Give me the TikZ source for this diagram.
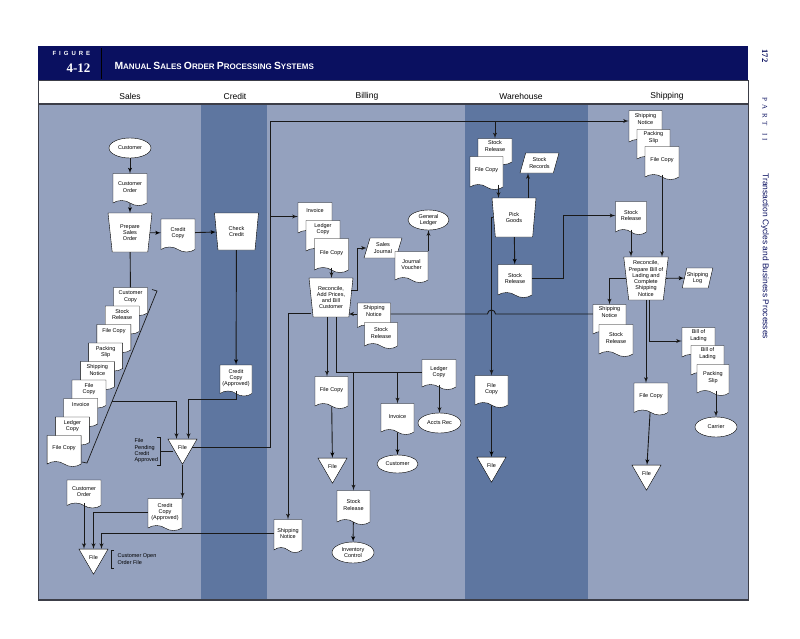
\documentclass[tikz,border=0pt]{standalone}
\usepackage{fontspec}
\setmainfont{Liberation Sans}
\newfontfamily\seriffont{Liberation Serif}
\usetikzlibrary{arrows,positioning,shapes.geometric,shapes.symbols}
\definecolor{col1}{RGB}{148,161,190}
\definecolor{col2}{RGB}{94,118,160}
\definecolor{col3}{RGB}{10,16,96}
\definecolor{col4}{RGB}{60,62,72}
\tikzstyle{docu}=[draw, fill=white, tape, tape bend top=none, tape bend bottom=out and in, tape bend height=5, minimum width=34, minimum height=32, inner sep=0.5, align=center]
\tikzstyle{backdoc}=[docu, text depth=6]
\tikzstyle{tallback}=[docu, text depth=12]
\tikzstyle{manual}=[draw, fill=white, trapezium, shape border rotate=180, trapezium angle=82, trapezium stretches=true, minimum width=44, minimum height=39, inner sep=0, align=center]
\tikzstyle{ledger}=[draw, fill=white, trapezium, trapezium left angle=68, trapezium right angle=112, trapezium stretches=true, minimum width=38, minimum height=20, inner sep=0, align=center]
\tikzstyle{term}=[draw, fill=white, ellipse, minimum width=42, minimum height=20, inner sep=0, align=center]
\tikzstyle{filed}=[draw, fill=white, regular polygon, regular polygon sides=3, shape border rotate=180, minimum size=33.5, inner sep=0]
\tikzstyle{flow}=[line width=0.9pt, draw=black!90]
\tikzstyle{lane}=[font=\fontsize{8.5}{8.5}\selectfont]
\newcommand{\capbig}[1]{{\fontsize{10.4}{10.4}\selectfont #1}}
\begin{document}
\begin{tikzpicture}[x=1pt,y=-1pt,>=latex',font=\fontsize{5.5}{6.3}\selectfont]
\useasboundingbox (0,0) rectangle (800,638);
% header band and lanes
\fill[col3] (38,46) rectangle (748,80);
\fill[white] (38,80) rectangle (748,104);
\fill[col1] (38,104) rectangle (201,600);
\fill[col2] (201,104) rectangle (267,600);
\fill[col1] (267,104) rectangle (465,600);
\fill[col2] (465,104) rectangle (588,600);
\fill[col1] (588,104) rectangle (748,600);
\draw[col4, line width=0.8] (38,80) rectangle (748,600);
\draw[col4, line width=1.5] (38,104) -- (748,104);
\draw[col4, line width=1.6] (38,600) -- (748,600);
\draw[black, line width=0.6] (101,48) -- (101,79);
\node[anchor=west, text=white, font=\bfseries\fontsize{6}{6}\selectfont] (figword) at (49,53.5) {F\hspace{3pt}I\hspace{3pt}G\hspace{3pt}U\hspace{3pt}R\hspace{3pt}E};
\node[anchor=east, text=white, font=\seriffont\bfseries\fontsize{13}{13}\selectfont] (fignum) at (94,68) {4-12};
\node[anchor=west, text=white, font=\bfseries\fontsize{8}{8}\selectfont] (title) at (111,65.5) {\capbig{M}ANUAL \capbig{S}ALES \capbig{O}RDER \capbig{P}ROCESSING \capbig{S}YSTEMS};
\node[lane] (lsales) at (130,96) {Sales};
\node[lane] (lcredit) at (235,96) {Credit};
\node[lane] (lbilling) at (367,96) {Billing};
\node[lane] (lware) at (521,96) {Warehouse};
\node[lane] (lship) at (667,96) {Shipping};
% page margin
\node[rotate=-90, anchor=west, text=col3, font=\seriffont\bfseries\fontsize{8.5}{8.5}\selectfont] (pagenum) at (765,46) {172};
\node[rotate=-90, anchor=west, text=col3, font=\seriffont\fontsize{7}{7}\selectfont] (partno) at (765,94) {P\hspace{3.5pt}A\hspace{3.5pt}R\hspace{3.5pt}T\hspace{8pt}I\hspace{2pt}I};
\node[rotate=-90, anchor=west, text=col3, font=\fontsize{8.4}{8.4}\selectfont] (parttitle) at (765,170) {Transaction Cycles and Business Processes};

% Sales
\node[term] (cust) at (130,148) {Customer};
\node[docu] (custord) at (130,187) {Customer\\Order};
\node[manual] (prep) at (130,232.5) {Prepare\\Sales\\Order};
\node[docu, minimum height=33] (credcopy) at (178,233) {Credit\\Copy};
\node[backdoc, minimum height=28] (s1) at (130.5,299) {Customer\\Copy};
\node[backdoc, minimum height=28] (s2) at ([shift={(-8.3,18.5)}]s1) {Stock\\Release};
\node[tallback, minimum height=28] (s3) at ([shift={(-8.3,18.5)}]s2) {File Copy};
\node[backdoc, minimum height=28] (s4) at ([shift={(-8.3,18.5)}]s3) {Packing\\Slip};
\node[backdoc, minimum height=28] (s5) at ([shift={(-8.3,18.5)}]s4) {Shipping\\Notice};
\node[backdoc, minimum height=28] (s6) at ([shift={(-8.3,18.5)}]s5) {File\\Copy};
\node[tallback, minimum height=28] (s7) at ([shift={(-8.3,18.5)}]s6) {Invoice};
\node[backdoc, minimum height=28] (s8) at ([shift={(-8.3,18.5)}]s7) {Ledger\\Copy};
\node[docu, minimum height=31] (s9) at ([shift={(-8.3,20)}]s8) {File Copy};
\draw[flow, line width=0.7] (152,289.5) -- (157,291) -- (87,463) -- (82,462);
\coordinate (brk) at (112,401);
\node[filed] (fileA) at (182.5,447.5) {File};
\node[anchor=west, align=left] (pendlbl) at (131,451) {File\\Pending\\Credit\\Approved};
\draw[flow, line width=0.6] (157,437) -- (160,437) -- (160,465) -- (157,465);
\coordinate (pendbr) at (160,451);
\node[docu, minimum height=28] (custord2) at (84,491.5) {Customer\\Order};
\node[docu] (credapp2) at (165,512) {Credit\\Copy\\(Approved)};
\node[filed] (fileB) at (93.5,557.5) {File};
\node[anchor=west, align=left] (openlbl) at (114,559) {Customer Open\\Order File};
\draw[flow, line width=0.6] (114,550) -- (111,550) -- (111,568) -- (114,568);

% Credit
\node[manual, minimum height=37] (check) at (236.5,231.5) {Check\\Credit};
\node[docu, minimum width=32, minimum height=31] (credapp) at (236,378) {Credit\\Copy\\(Approved)};

% Billing
\node[tallback, minimum height=33] (inv) at (315,216.5) {Invoice};
\node[tallback, minimum height=33] (ledg) at (323,234.5) {Ledger\\Copy};
\node[docu, minimum height=34] (filec) at (331.5,253) {File Copy};
\node[manual] (recon) at (331,297.5) {Reconcile,\\Add Prices,\\and Bill\\Customer};
\node[ledger] (sj) at (383,248) {Sales\\Journal};
\node[docu, minimum width=33, minimum height=31] (jv) at (411.5,264.5) {Journal\\Voucher};
\node[term, minimum width=41] (gl) at (428.5,220) {General\\Ledger};
\node[backdoc, minimum width=33, minimum height=27] (shn) at (374,314) {Shipping\\Notice};
\node[docu, minimum width=33, minimum height=26] (str) at (381,333) {Stock\\Release};
\node[docu, minimum width=33] (fcb) at (331.5,390) {File Copy};
\node[filed] (fileC) at (332.5,466.5) {File};
\node[docu, minimum height=30] (ledg2) at (439,372) {Ledger\\Copy};
\node[docu, minimum width=33, minimum height=31] (inv2) at (397.5,416.5) {Invoice};
\node[term, minimum width=41, minimum height=18] (custB) at (397.5,464) {Customer};
\node[term, minimum width=43] (acr) at (439.5,423) {Accts Rec};
\node[docu, minimum width=33, minimum height=34] (str2) at (353.5,505) {Stock\\Release};
\node[term, minimum height=21] (invc) at (353,552.5) {Inventory\\Control};
\node[docu, minimum width=28, minimum height=33] (shn2) at (288,533.5) {Shipping\\Notice};

% Warehouse
\node[backdoc, minimum height=26] (wsr) at (495,149) {Stock\\Release};
\node[docu, minimum width=33, minimum height=33] (wfc) at (486.5,170.5) {File Copy};
\node[manual] (pick) at (514,217.5) {Pick\\Goods};
\node[ledger, minimum width=39] (srec) at (539.5,163) {Stock\\Records};
\node[docu, minimum height=33] (wsr2) at (515,278.5) {Stock\\Release};
\node[docu, minimum width=33] (wfc2) at (491.5,389) {File\\Copy};
\node[filed] (fileD) at (491.5,465.5) {File};

% Shipping
\node[tallback, minimum width=33, minimum height=34] (psn) at (645.5,125) {Shipping\\Notice};
\node[tallback, minimum width=33] (pps) at (653.5,143) {Packing\\Slip};
\node[docu, minimum height=33] (pfc) at (662,160.5) {File Copy};
\node[docu, minimum width=31, minimum height=33] (psr) at (631,215.5) {Stock\\Release};
\node[manual, minimum width=43, minimum height=43] (prec) at (646,278.5) {Reconcile,\\Prepare Bill of\\Lading and\\Complete\\Shipping\\Notice};
\node[ledger, minimum width=30] (slog) at (697.5,278) {Shipping\\Log};
\node[tallback, minimum width=33] (psn2) at (609.5,318) {Shipping\\Notice};
\node[docu] (psr2) at (616,338) {Stock\\Release};
\node[docu] (pfc2) at (651,396.5) {File Copy};
\node[filed] (fileE) at (646.5,473.5) {File};
\node[tallback, minimum width=33] (bol) at (698.5,341) {Bill of\\Lading};
\node[tallback, minimum width=33] (bol2) at (707.5,359) {Bill of\\Lading};
\node[docu, minimum width=32, minimum height=31] (pslip) at (713,377.5) {Packing\\Slip};
\node[term] (carrier) at (716,427) {Carrier};
\coordinate (topL) at (270,121);

% flows
\path[flow,->]
(cust) edge (custord)
(custord) edge (prep)
(prep) edge (credcopy)
(credcopy) edge (check)
(check) edge (credapp)
(fcb) edge (fileC)
(inv2) edge (custB)
(str2) edge (invc)
(pick) edge (wsr2)
(wfc2) edge (fileD)
(prec) edge (slog)
(pfc2) edge (fileE);
\draw[flow] (prep) -- (s1);
\draw[flow,->] (brk) -| ([xshift=-6]fileA.north);
\draw[flow,->] (credapp.south) -- ++(0,8) -| ([xshift=6]fileA.north);
\draw[flow] (pendbr) -- (pendbr -| fileA.west);
\draw[flow,->] (fileA.east) -| (topL) -- (topL -| psn.west);
\draw[flow,->] (topL |- inv.west) -- (inv.west);
\draw[flow,->] (wsr.north |- topL) -- (wsr.north);
\draw[flow,->] (fileA.south) -- (fileA.south |- credapp2.north);
\draw[flow,->] (custord2.south) -- (custord2.south |- fileB.north);
\draw[flow,->] (credapp2.west) -| (fileB.north);
\draw[flow,->] (shn2.west) -| ([xshift=8]fileB.north);
\draw[flow,->] (filec.south) -- (filec.south |- recon.north);
\draw[flow,->] ([yshift=7]recon.east) -- ++(6,0) |- (sj.west);
\draw[flow,->] (gl.south |- jv.north) -- (gl.south);
\draw[flow] (psn2.west |- shn.east) -- (495.5,314) arc[start angle=0, end angle=-180, radius=4] -- (shn.east);
\draw[flow,->] (shn.west) -- ++(-9,0);
\draw[flow,->] ([yshift=-16]recon.west) -| (shn2.north);
\draw[flow,->] ([xshift=-4]recon.south) -- ([xshift=-4]recon.south |- fcb.north);
\draw[flow] ([xshift=5]recon.south) |- (ledg2.west);
\draw[flow,->] (str2.north |- ledg2.west) -- (str2.north);
\draw[flow,->] (inv2.north |- ledg2.west) -- (inv2.north);
\draw[flow,->] (acr.north |- ledg2.south) -- (acr.north);
\draw[flow,->] ([xshift=12]wfc.south) -- ([xshift=12]wfc.south |- pick.north);
\draw[flow,->] ([xshift=14]pick.north) -- ([xshift=14]pick.north |- srec.south);
\draw[flow,->] (pick.west) -| (wfc2.north);
\draw[flow,->] (wsr2.east) -- ++(31,0) |- (psr.west);
\draw[flow,->] (pfc.south) -- (pfc.south |- prec.north);
\draw[flow,->] (psr.south) -- (psr.south |- prec.north);
\draw[flow,->] (prec.west) -| (psn2.north);
\draw[flow,->] (prec.south) -- (prec.south |- pfc2.north);
\draw[flow,->] ([xshift=3]prec.south) |- (bol.west);
\draw[flow,->] (carrier.north |- pslip.south) -- (carrier.north);
\end{tikzpicture}
\end{document}
